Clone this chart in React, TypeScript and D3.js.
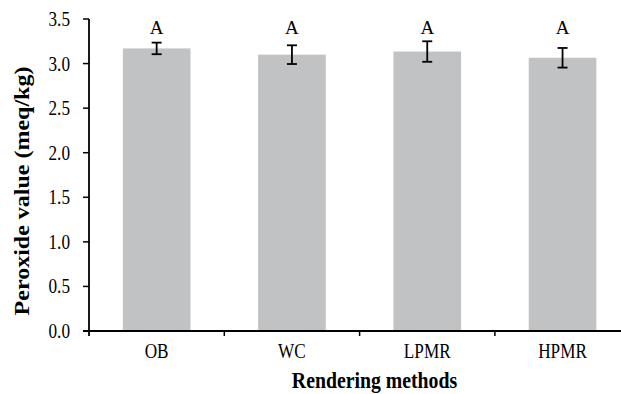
import React from 'react';
import * as d3 from 'd3';

// Peroxide value by rendering method
const categories = ['OB', 'WC', 'LPMR', 'HPMR'];
const means = [3.17, 3.1, 3.135, 3.065];
const errors = [0.065, 0.105, 0.115, 0.11];
const letters = ['A', 'A', 'A', 'A'];
const yTicks = [0, 0.5, 1.0, 1.5, 2.0, 2.5, 3.0, 3.5];

const W = 621;
const H = 394;
const font = '"Times New Roman", "Liberation Serif", serif';
const sx = 0.86; // the original picture is squeezed a bit horizontally

const App = () => {
  const x0 = 89;
  const step = 135.3;
  const x = d3.scaleBand<string>()
    .domain(categories)
    .range([x0, x0 + step * categories.length])
    .paddingInner(0.5)
    .paddingOuter(0.25);
  const y = d3.scaleLinear().domain([0, 3.5]).range([331, 19]);
  const bw = x.bandwidth();
  const cap = 5;

  const txt = (tx: number, ty: number, s = sx) => `translate(${tx},${ty}) scale(${s},1)`;

  return (
    <div style={{ position: 'absolute', left: 0, top: 0 }}>
      <svg width={W} height={H} style={{ display: 'block', fontFamily: font }}>
        <rect width={W} height={H} fill="#fff" />
        {categories.map((c, i) => {
          const cx = (x(c) as number) + bw / 2;
          const top = y(means[i] + errors[i]);
          const bot = y(means[i] - errors[i]);
          return (
            <g key={c}>
              <rect x={x(c)} y={y(means[i])} width={bw} height={y(0) - y(means[i])} fill="#c1c2c4" />
              <line x1={cx} x2={cx} y1={top} y2={bot} stroke="#000" strokeWidth={1.8} />
              <line x1={cx - cap} x2={cx + cap} y1={top} y2={top} stroke="#000" strokeWidth={1.8} />
              <line x1={cx - cap} x2={cx + cap} y1={bot} y2={bot} stroke="#000" strokeWidth={1.8} />
              <text transform={txt(cx, y(3.33), 1)} textAnchor="middle" fontSize={19} fill="#000">{letters[i]}</text>
              <text transform={txt(cx, 358)} textAnchor="middle" fontSize={20} fill="#000">{c}</text>
            </g>
          );
        })}
        {/* y axis */}
        <line x1={x0} x2={x0} y1={y(3.5)} y2={y(0) + 5} stroke="#000" strokeWidth={1.8} />
        {yTicks.map(t => (
          <g key={t}>
            <line x1={x0 - 6} x2={x0} y1={y(t)} y2={y(t)} stroke="#000" strokeWidth={1.5} />
            <text transform={txt(70, y(t))} dy="0.35em" textAnchor="end" fontSize={20} fill="#000">{t.toFixed(1)}</text>
          </g>
        ))}
        {/* x axis */}
        <line x1={x0 - 6} x2={W} y1={y(0)} y2={y(0)} stroke="#000" strokeWidth={1.8} />
        {categories.slice(1).map((c, i) => (
          <line key={c} x1={x0 + step * (i + 1)} x2={x0 + step * (i + 1)} y1={y(0)} y2={y(0) + 5} stroke="#000" strokeWidth={1.5} />
        ))}
        <text transform={txt(374.5, 388)} textAnchor="middle" fontSize={23} fontWeight="bold" fill="#000">Rendering methods</text>
        <text transform={`${txt(29, 191)} rotate(-90)`} textAnchor="middle" fontSize={24} fontWeight="bold" fill="#000">Peroxide value (meq/kg)</text>
      </svg>
    </div>
  );
};

export default App;
